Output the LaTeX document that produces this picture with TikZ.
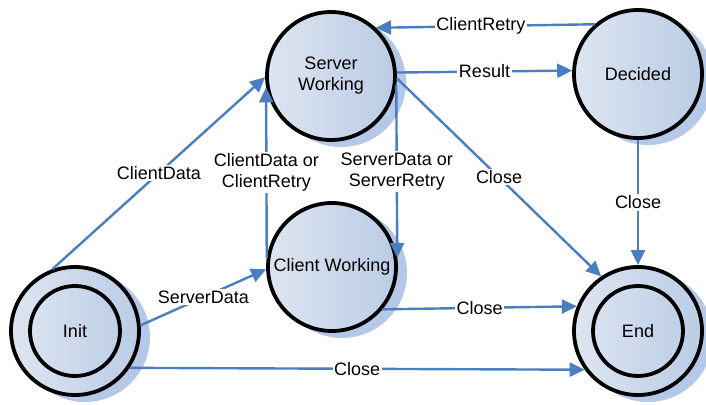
\documentclass[tikz,border=0pt]{standalone}
\usepackage{fontspec}
\setmainfont{Liberation Sans}
\usepackage{tikz}
\usetikzlibrary{calc}
\usetikzlibrary{arrows.meta}
\usetikzlibrary{backgrounds}
\definecolor{linkblue}{RGB}{74,126,193}
\definecolor{stateleft}{RGB}{222,229,241}
\definecolor{stateright}{RGB}{186,204,229}
\definecolor{shadeblue}{RGB}{182,200,232}
\tikzset{
 state/.style={circle, draw=black, line width=3.8pt, minimum size=128pt, inner sep=0pt, align=center,
  left color=stateleft, right color=stateright},
 final/.style={state, path picture={\draw[black, line width=3.8pt] (path picture bounding box.center) circle (45pt);}},
 link/.style={draw=linkblue, line width=2.4pt, -{Triangle[length=15pt,width=14pt]}},
 lbl/.style={fill=white, text=black, inner sep=1.5pt, align=center, midway}
}

\begin{document}
\begin{tikzpicture}[x=1pt, y=1pt, every node/.style={font=\fontsize{18}{21}\selectfont}]
\useasboundingbox (0,0) rectangle (706,404);
\node[final] (init) at (75,73)   {Init};
\node[state] (sw)   at (331,328) {Server\\Working};
\node[state] (dec)  at (638,330) {Decided};
\node[state] (cw)   at (332,137) {Client Working};
\node[final] (end)  at (638,73)  {End};
\begin{scope}[on background layer]
\foreach \s in {init,sw,dec,cw,end} {
 \fill[shadeblue] ($(\s.center)+(10,-6)$) circle (65);
}
\end{scope}

\draw[link] (init.110) -- (sw.181) node[lbl] {ClientData};
\draw[link] (init.5) -- (cw.182) node[lbl] {ServerData};
\draw[link] (init.-34) -- (end.216) node[lbl] {Close};
\draw[link] (cw.172) -- (sw.190) node[lbl] {ClientData or\\ClientRetry};
\draw[link] (sw.-8) -- (cw.8) node[lbl] {ServerData or\\ServerRetry};
\draw[link] (sw.3) -- (dec.177) node[lbl] {Result};
\draw[link] (dec.131) -- (sw.47) node[lbl, pos=.52] {ClientRetry};
\draw[link] (sw.-2) -- (end.124) node[lbl] {Close};
\draw[link] (dec.-90) -- (end.90) node[lbl] {Close};
\draw[link] (cw.-40) -- (end.158) node[lbl] {Close};
\end{tikzpicture}
\end{document}
